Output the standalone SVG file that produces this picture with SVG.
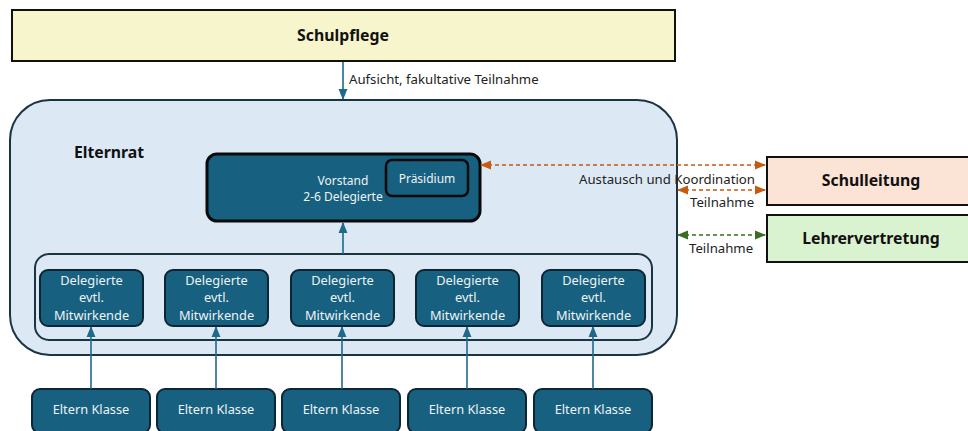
<svg xmlns="http://www.w3.org/2000/svg" width="968" height="431" viewBox="0 0 968 431">
<defs>
<style>
text{font-family:"Noto Sans","Liberation Sans",sans-serif;}
.title{font-size:15.8px;font-weight:bold;fill:#111;text-anchor:middle;}
.lbl{font-size:13.2px;fill:#222;}
.wt{font-size:12.8px;fill:#eef3f6;text-anchor:middle;}
.vt{font-size:12px;fill:#eef3f6;text-anchor:middle;}
.box{fill:#17607f;stroke:#0d2633;stroke-width:2;}
.blue{stroke:#1f6a8a;stroke-width:1.6;fill:none;}
.or{stroke:#c55a11;stroke-width:1.6;stroke-dasharray:4,3;fill:none;}
.gr{stroke:#3a6e22;stroke-width:1.6;stroke-dasharray:4,3;fill:none;}
</style>
<marker id="ab" viewBox="0 0 10 10" refX="9" refY="5" markerWidth="7" markerHeight="7" orient="auto-start-reverse"><path d="M0,1 L10,5 L0,9 z" fill="#1f6a8a"/></marker>
<marker id="ao" viewBox="0 0 10 10" refX="9" refY="5" markerWidth="7" markerHeight="7" orient="auto-start-reverse"><path d="M0,1 L10,5 L0,9 z" fill="#c55a11"/></marker>
<marker id="ag" viewBox="0 0 10 10" refX="9" refY="5" markerWidth="7" markerHeight="7" orient="auto-start-reverse"><path d="M0,1 L10,5 L0,9 z" fill="#3a6e22"/></marker>
</defs>
<rect width="968" height="431" fill="#fff"/>

<g id="schulpflege">
<rect x="12" y="10" width="663" height="51" fill="#f7f5cc" stroke="#111" stroke-width="2"/>
<text class="title" x="343" y="41">Schulpflege</text>
</g>

<g id="elternrat">
<rect x="10" y="100" width="667" height="255" rx="40" fill="#dce9f5" stroke="#1a3442" stroke-width="2"/>
<text class="title" x="109" y="158">Elternrat</text>
<rect x="35" y="254" width="617" height="86" rx="14" fill="none" stroke="#1a3442" stroke-width="2"/>
</g>

<g id="vorstand">
<rect x="207" y="154" width="273" height="67" rx="10" fill="#17607f" stroke="#0a0a0a" stroke-width="3"/>
<text class="vt" x="343" y="185">Vorstand</text>
<text class="vt" x="343" y="201">2-6 Delegierte</text>
</g>
<g id="praesidium">
<rect x="386" y="160" width="82" height="36" rx="6" fill="#17607f" stroke="#0a0a0a" stroke-width="2.5"/>
<text class="vt" x="427" y="183">Präsidium</text>
</g>

<g id="delegierte1"><rect class="box" x="40" y="270" width="103" height="56" rx="8"/><text class="wt" x="91.5" y="284.5">Delegierte</text><text class="wt" x="91.5" y="302">evtl.</text><text class="wt" x="91.5" y="319.5">Mitwirkende</text></g>
<g id="delegierte2"><rect class="box" x="165" y="270" width="103" height="56" rx="8"/><text class="wt" x="216.5" y="284.5">Delegierte</text><text class="wt" x="216.5" y="302">evtl.</text><text class="wt" x="216.5" y="319.5">Mitwirkende</text></g>
<g id="delegierte3"><rect class="box" x="291" y="270" width="103" height="56" rx="8"/><text class="wt" x="342.5" y="284.5">Delegierte</text><text class="wt" x="342.5" y="302">evtl.</text><text class="wt" x="342.5" y="319.5">Mitwirkende</text></g>
<g id="delegierte4"><rect class="box" x="416" y="270" width="103" height="56" rx="8"/><text class="wt" x="467.5" y="284.5">Delegierte</text><text class="wt" x="467.5" y="302">evtl.</text><text class="wt" x="467.5" y="319.5">Mitwirkende</text></g>
<g id="delegierte5"><rect class="box" x="542" y="270" width="103" height="56" rx="8"/><text class="wt" x="593.5" y="284.5">Delegierte</text><text class="wt" x="593.5" y="302">evtl.</text><text class="wt" x="593.5" y="319.5">Mitwirkende</text></g>

<g id="eltern1"><rect class="box" x="32" y="389" width="118" height="44" rx="8"/><text class="wt" x="91" y="414">Eltern Klasse</text></g>
<g id="eltern2"><rect class="box" x="157" y="389" width="118" height="44" rx="8"/><text class="wt" x="216" y="414">Eltern Klasse</text></g>
<g id="eltern3"><rect class="box" x="282" y="389" width="118" height="44" rx="8"/><text class="wt" x="341" y="414">Eltern Klasse</text></g>
<g id="eltern4"><rect class="box" x="408" y="389" width="118" height="44" rx="8"/><text class="wt" x="467" y="414">Eltern Klasse</text></g>
<g id="eltern5"><rect class="box" x="534" y="389" width="118" height="44" rx="8"/><text class="wt" x="593" y="414">Eltern Klasse</text></g>

<g id="schulleitung">
<rect x="767" y="157" width="203" height="48" fill="#fbe3d6" stroke="#111" stroke-width="2"/>
<text class="title" x="871" y="186">Schulleitung</text>
</g>
<g id="lehrervertretung">
<rect x="767" y="215" width="203" height="47" fill="#d9f2d0" stroke="#111" stroke-width="2"/>
<text class="title" x="871" y="244">Lehrervertretung</text>
</g>

<g id="connectors">
<line class="blue" x1="343" y1="62" x2="343" y2="99" marker-end="url(#ab)"/>
<text class="lbl" x="349" y="84">Aufsicht, fakultative Teilnahme</text>
<line class="blue" x1="343" y1="254" x2="343" y2="223" marker-end="url(#ab)"/>
<line class="blue" x1="91" y1="389" x2="91" y2="327" marker-end="url(#ab)"/>
<line class="blue" x1="216" y1="389" x2="216" y2="327" marker-end="url(#ab)"/>
<line class="blue" x1="342" y1="389" x2="342" y2="327" marker-end="url(#ab)"/>
<line class="blue" x1="467" y1="389" x2="467" y2="327" marker-end="url(#ab)"/>
<line class="blue" x1="593" y1="389" x2="593" y2="327" marker-end="url(#ab)"/>
<line class="or" x1="481" y1="165" x2="765" y2="165" marker-start="url(#ao)" marker-end="url(#ao)"/>
<text class="lbl" x="579" y="184">Austausch und Koordination</text>
<line class="or" x1="678" y1="190" x2="765" y2="190" marker-start="url(#ao)" marker-end="url(#ao)"/>
<text class="lbl" x="690" y="207">Teilnahme</text>
<line class="gr" x1="678" y1="235" x2="765" y2="235" marker-start="url(#ag)" marker-end="url(#ag)"/>
<text class="lbl" x="689" y="253">Teilnahme</text>
</g>
</svg>
